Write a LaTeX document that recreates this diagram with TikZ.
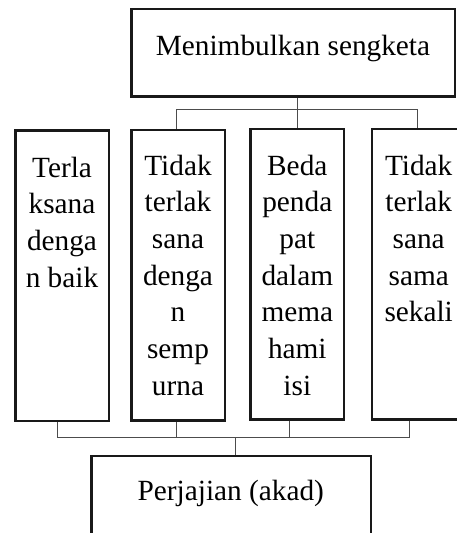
\documentclass[tikz,border=0pt]{standalone}
\usepackage{fontspec}
\setmainfont{Liberation Serif}
\begin{document}
\begin{tikzpicture}[x=1pt,y=-1pt,
  box/.style={draw=black!90, line width=2.4pt, rectangle, inner sep=0pt},
  mid/.style={box, minimum width=93.4pt, minimum height=290.8pt},
  txt/.style={inner sep=0pt, align=center, font=\fontsize{29.3}{36.7}\selectfont},
  conn/.style={draw=black!70, line width=1pt}]
\useasboundingbox (0,0) rectangle (457,533);
\clip (0,0) rectangle (457,533);
% boxes
\node[box, minimum width=323.2pt, minimum height=87.3pt] (top) at (293.1,52.65) {};
\node[mid] (b1) at (62,275.8) {};
\node[mid] (b2) at (178,275.1) {};
\node[mid] (b3) at (297.3,274.1) {};
\node[mid] (b4) at (418.7,274.1) {};
\node[box, minimum width=279.4pt, minimum height=90pt] (bot) at (231,500.7) {};
% texts
\node[txt, anchor=base] (ttop) at (293,55.7) {Menimbulkan sengketa};
\node[txt, anchor=north] (t1) at (62,177-25.7) {\strut Terla\\ksana\\denga\\n baik};
\node[txt, anchor=north] (t2) at (178,175-25.7) {\strut Tidak\\terlak\\sana\\denga\\n\\semp\\urna};
\node[txt, anchor=north] (t3) at (297.3,175-25.7) {\strut Beda\\penda\\pat\\dalam\\mema\\hami\\isi};
\node[txt, anchor=north] (t4) at (418.7,175-25.7) {\strut Tidak\\terlak\\sana\\sama\\sekali};
\node[txt, anchor=base] (tbot) at (230.8,500.5) {Perjajian (akad)};
% top connectors
\coordinate (jt) at (297.7,109.7);
\draw[conn] (top.south -| jt) -- (jt);
\draw[conn] ([xshift=-2pt]b2.north) |- (jt);
\draw[conn] ([xshift=0.4pt]b3.north) -- (jt);
\draw[conn] ([xshift=-1.4pt]b4.north) |- (jt);
% bottom connectors
\coordinate (jb) at (235.8,437);
\draw[conn] ([xshift=-4.7pt]b1.south) |- (jb);
\draw[conn] ([xshift=-1.3pt]b2.south) |- (jb);
\draw[conn] ([xshift=-7.6pt]b3.south) |- (jb);
\draw[conn] ([xshift=-9.7pt]b4.south) |- (jb);
\draw[conn] (jb) -- (bot.north -| jb);
\end{tikzpicture}
\end{document}
